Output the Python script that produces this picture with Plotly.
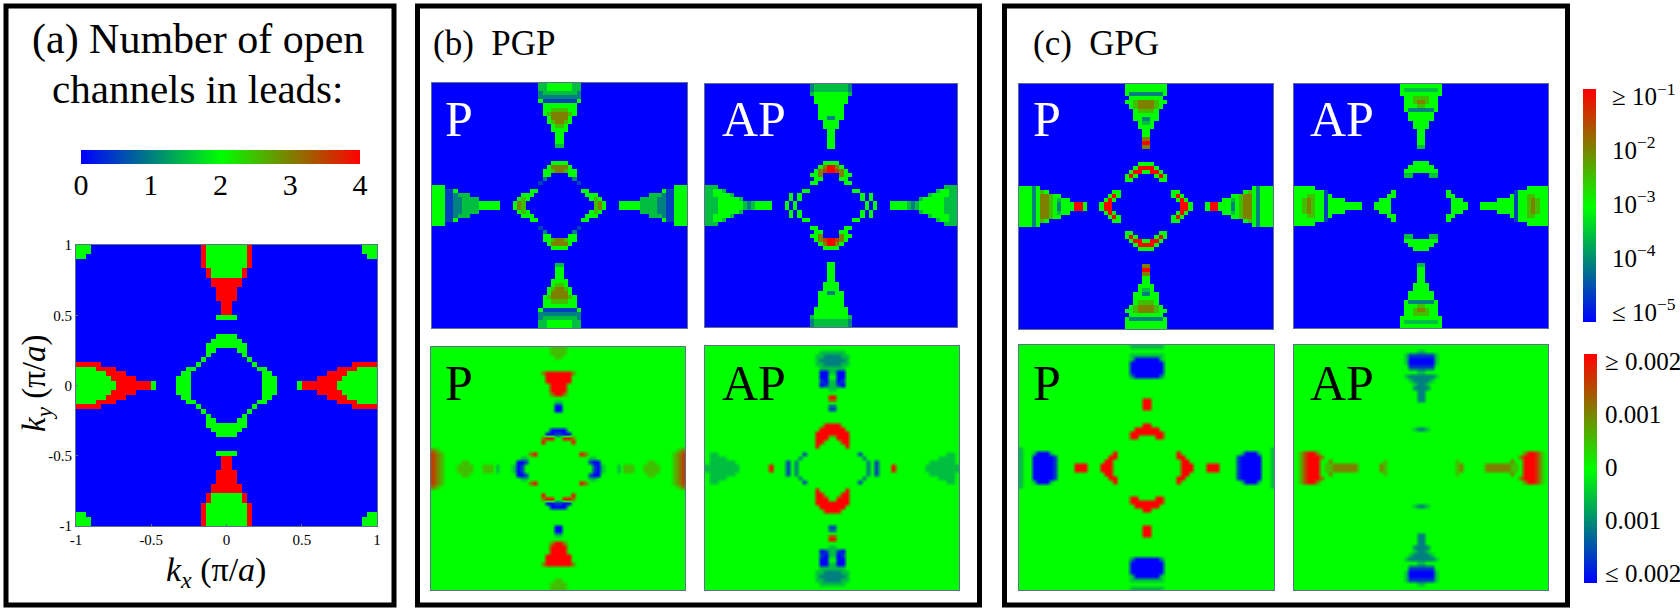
import plotly.graph_objects as go

W, H = 1680, 610
SERIF = "Liberation Serif"
N = 30

# Colour codes: 0 blue ... 4 green ... 8 red. Rows run from the top edge (k=1) to the centre (k=0),
# columns from the centre (k=0) to the right edge (k=1); short rows continue with the background code.
OPEN_CHANNELS = [
 "4444800000 0000000000 0000000444", "4444800000 0000000000 0000000444", "4444800000 0000000000 0000000044",
 "44448", "44448", "4448", "4448", "888", "888", "88", "88", "88", "8", "8", "8", "44", "", "", "",
 "44", "444", "4444", "0044", "0004", "00004",
 "0000040000 0000000000 0000088888", "0000004400 0000000000 0088884444",
 "0000000440 0000000000 8888444444", "0000000444 0000000088 8884444444", "0000000444 0000488888 8844444444",
]
PGP_T_P = [
 "44433", "44433", "33332", "22222", "11114", "4444", "5544", "6654", "664", "654", "54", "44", "4", "4", "4", "3",
 "", "", "", "44", "664", "6544", "0044", "0002", "00001",
 "0000000000 0000000000 0000000444", "0000044000 0000000000 0000411444",
 "0000004440 0000000000 0333211444", "0000000454 0000000003 3332211444", "0000000056 4000444443 3332211444",
]
PGP_T_AP = [
 "33332", "33332", "44443", "4444", "4444", "444", "444", "444", "244", "44", "44", "4", "4", "4", "4", "4",
 "", "", "", "44", "864", "8764", "00644", "0044", "00044",
 "0000000000 0000000000 0000000333", "0000044000 0000000000 0000034433",
 "0000000404 0000000000 0003444433", "0000000404 0000000000 0344444333", "0000000040 4000444432 3444444333",
]
PGP_B_P = [
 "554", "554", "54", "4", "4", "4", "8886", "888", "888", "88", "88", "86", "4", "3", "04", "0",
 "", "", "", "4", "004", "100", "4886", "4448", "",
 "4444444444 4444444444 4444444456", "4444486444 4444444444 4444444567",
 "4444444334 4444444444 4444444567", "4444444100 4444444444 4554444567", "4444444410 3444355544 5555444567",
]
PGP_B_AP = [
 "4", "3334", "2233", "2223", "2233", "3334", "3004", "4004", "3014", "3104", "3", "4", "8", "6", "2", "1",
 "", "", "", "88", "888", "8888", "4888", "4488", "4448",
 "", "4444441444 4444444444 4444444334",
 "4444444244 4444444444 4444433334", "4444444424 1444444444 4443333334", "4444444424 1444844444 4433333333",
]
GPG_T_P = [
 "44444", "44444", "22224", "4444", "66544", "6654", "554", "444", "244", "34", "44", "4", "4", "6", "8", "6",
 "", "", "", "44", "884", "4884", "00484", "00044", "",
 "0000000000 0000000000 0000042444", "0000004400 0000000000 0004542444",
 "0000004840 0000000000 4456642444", "0000000484 0000000044 3456642444", "0000000088 4000488444 2456642444",
]
GPG_T_AP = [
 "44444", "33334", "44444", "5544", "6544", "5444", "2224", "444", "444", "44", "44", "4", "4", "4", "4", "3",
 "", "", "", "44", "444", "4444", "0033", "", "",
 "0000000000 0000000000 0000044444", "0000004000 0000000000 0014444444",
 "0000004400 0000000000 0414455444", "0000000444 0000000044 4414456544", "0000000444 4000444444 4414456544",
]
GPG_B_P = [
 "33334", "4444", "3333", "0003", "0000", "0000", "0000", "0002", "4", "4", "4", "4", "4", "8", "8", "8",
 "", "", "", "8", "888", "8888", "4488", "", "",
 "4444444444 4444444444 4444444443", "4444444844 4444444444 4430003443",
 "4444444884 4444444444 4100000443", "4444444488 4444444444 4100000443", "4444444488 8444888444 4100000443",
]
GPG_B_AP = [
 "4", "3", "1113", "0003", "0003", "1114", "3444", "2223", "223", "23", "22", "2", "2", "2", "", "",
 "", "", "", "", "23", "", "", "", "",
 "", "4444444444 4444444444 4444688754",
 "4444444444 4444444444 4446888754", "4444444454 4444444444 4644888754", "4444444456 4444466666 6554888754",
]

AXIS_TICKS = [-1, -0.5, 0, 0.5, 1]
AXIS_LABELS = ["-1", "-0.5", "0", "0.5", "1"]
BAR_CODES = [0, 1, 2, 3, 4, 5, 6, 7, 8]
BAR_A_LABELS = ["0", "1", "2", "3", "4"]
BAR_T_LABELS = ["≤ 10<sup>−5</sup>", "10<sup>−4</sup>", "10<sup>−3</sup>", "10<sup>−2</sup>", "≥ 10<sup>−1</sup>"]
BAR_B_LABELS = ["≤ 0.002", "0.001", "0", "0.001", "≥ 0.002"]

COLORSCALE = [[0, "#0000ff"], [0.5, "#00ff00"], [1, "#ff0000"]]
AXIS_LINE = "#5f6f8f"


def expand(rows, bg):
    half = []
    for row in rows:
        r = [int(c) for c in row.replace(" ", "").ljust(N, bg)]
        half.append(r[::-1] + r)
    return half + half[::-1]


centres = [(i + 0.5 - N) / N for i in range(2 * N)]

# rows, background, x0, x1, y0, y1 (pixels), smoothing
PANELS = [
    (OPEN_CHANNELS, "0", 76, 377, 245, 526, False),
    (PGP_T_P, "0", 432, 687, 83, 328, False),
    (PGP_T_AP, "0", 705, 957, 84, 327, False),
    (PGP_B_P, "4", 431, 685, 347, 590, "best"),
    (PGP_B_AP, "4", 705, 959, 346, 590, "best"),
    (GPG_T_P, "0", 1019, 1273, 84, 329, False),
    (GPG_T_AP, "0", 1294, 1548, 84, 328, False),
    (GPG_B_P, "4", 1019, 1274, 345, 590, "best"),
    (GPG_B_AP, "4", 1294, 1548, 345, 590, "best"),
]

fig = go.Figure()
layout = dict(
    template="none",
    width=W, height=H, margin=dict(l=0, r=0, t=0, b=0, pad=0), autosize=False,
    paper_bgcolor="white", plot_bgcolor="white", showlegend=False,
    font=dict(family=SERIF, color="black"),
)


def dom_x(a, b):
    return [a / W, b / W]


def dom_y(a, b):
    return [1 - b / H, 1 - a / H]


for i, (rows, bg, x0, x1, y0, y1, smooth) in enumerate(PANELS, start=1):
    fig.add_trace(go.Heatmap(
        z=expand(rows, bg), x=centres, y=centres, zmin=0, zmax=8, colorscale=COLORSCALE,
        showscale=False, zsmooth=smooth, hoverinfo="skip", xaxis=f"x{i}", yaxis=f"y{i}",
    ))
    show = i == 1
    common = dict(range=[-1, 1], showgrid=False, zeroline=False, showline=True, mirror=True, automargin=False,
                  linecolor=AXIS_LINE, linewidth=1, showticklabels=show)
    if show:
        common.update(tickmode="array", tickvals=AXIS_TICKS, ticktext=AXIS_LABELS, ticks="inside",
                      ticklen=2, tickcolor=AXIS_LINE, tickfont=dict(family=SERIF, size=15))
    else:
        common.update(ticks="")
    layout[f"xaxis{i}"] = dict(domain=dom_x(x0, x1), anchor=f"y{i}", **common)
    layout[f"yaxis{i}"] = dict(domain=dom_y(y0, y1), anchor=f"x{i}", **common)

# colour bars
bar_a_x = [c / 2 for c in BAR_CODES]
fig.add_trace(go.Heatmap(z=[BAR_CODES, BAR_CODES], x=bar_a_x, y=[0, 1], zmin=0, zmax=8, colorscale=COLORSCALE,
                         showscale=False, zsmooth="best", hoverinfo="skip", xaxis="x10", yaxis="y10"))
layout["xaxis10"] = dict(domain=dom_x(81, 360), anchor="y10", range=[0, 4], tickmode="array", automargin=False,
                         tickvals=[0, 1, 2, 3, 4], ticktext=BAR_A_LABELS, ticks="",
                         showgrid=False, zeroline=False,
                         tickfont=dict(family=SERIF, size=30))
layout["yaxis10"] = dict(domain=dom_y(150, 164), anchor="x10", range=[0, 1], visible=False, automargin=False)

for i, labels, x0, x1, y0, y1, tl in [
    (11, BAR_T_LABELS, 1583, 1596, 89, 322, 10),
    (12, BAR_B_LABELS, 1584, 1597, 354, 583, 2),
]:
    fig.add_trace(go.Heatmap(z=[[c, c] for c in BAR_CODES], x=[0, 1], y=BAR_CODES, zmin=0, zmax=8,
                             colorscale=COLORSCALE, showscale=False, zsmooth="best", hoverinfo="skip",
                             xaxis=f"x{i}", yaxis=f"y{i}"))
    layout[f"xaxis{i}"] = dict(domain=dom_x(x0, x1), anchor=f"y{i}", range=[0, 1], visible=False, automargin=False)
    layout[f"yaxis{i}"] = dict(domain=dom_y(y0, y1), anchor=f"x{i}", side="right", range=[0, 8], tickmode="array",
                               tickvals=[0.35, 2.2, 4.05, 5.9, 7.75], ticktext=labels, ticks="outside", ticklen=tl,
                               tickcolor="rgba(0,0,0,0)", showgrid=False, zeroline=False, showline=False,
                               automargin=False, tickfont=dict(family=SERIF, size=25))

# frames
FRAMES = [(6, 6, 394, 605), (417.5, 6, 979.5, 605), (1004.5, 6, 1567.5, 605)]
layout["shapes"] = [
    dict(type="rect", xref="paper", yref="paper", x0=a / W, x1=c / W, y0=1 - b / H, y1=1 - d / H,
         line=dict(color="black", width=5), layer="above")
    for a, b, c, d in FRAMES
]


def label(text, x, y, size, color="black", anchor="left", angle=0):
    return dict(text=text, x=x / W, y=1 - y / H, xref="paper", yref="paper", xanchor=anchor, yanchor="middle",
                showarrow=False, textangle=angle, font=dict(family=SERIF, size=size, color=color))


layout["annotations"] = [
    label("(a) Number of open", 198, 40, 42, anchor="center"),
    label("channels in leads:", 197, 89, 41, anchor="center"),
    label("(b)  PGP", 431, 43, 35),
    label("(c)  GPG", 1031, 43, 35),
    label("P", 443, 119, 50, "white"),
    label("AP", 720, 119, 50, "white"),
    label("P", 1031, 119, 50, "white"),
    label("AP", 1308, 119, 50, "white"),
    label("P", 443, 383, 50),
    label("AP", 720, 383, 50),
    label("P", 1031, 383, 50),
    label("AP", 1308, 383, 50),
    label("<i>k<sub>x</sub></i> (π/<i>a</i>)", 216, 572, 34, anchor="center"),
    label("<i>k<sub>y</sub></i> (π/<i>a</i>)", 36, 383, 33, anchor="center", angle=-90),
]

fig.update_layout(**layout)
fig.write_html("out.html", config={"displayModeBar": False},
               post_script="document.body.style.margin='0';document.documentElement.style.overflow='hidden';")
